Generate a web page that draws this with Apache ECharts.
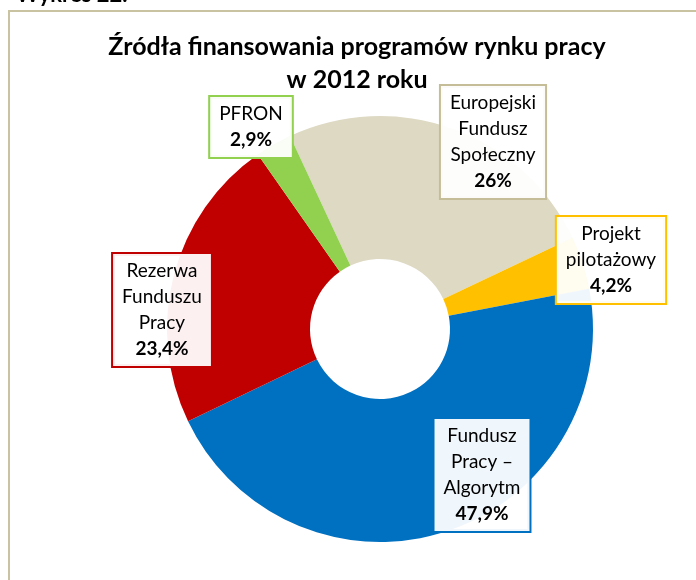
<!DOCTYPE html>
<html lang="pl">
<head>
  <meta charset="UTF-8">
  <title>Źródła finansowania programów rynku pracy w 2012 roku</title>
  <style>
    * { margin: 0; padding: 0; }
    html, body { width: 100%; height: 100%; background: #fff; }
    #chart { width: 696px; height: 580px; }
  </style>
</head>
<body>
  <div id="chart"></div>
  <script src="https://cdn.jsdelivr.net/npm/echarts@6/dist/echarts.min.js"></script>
  <script>
    // dane z wykresu
    const categories = ['Europejski\nFundusz\nSpołeczny', 'Projekt\npilotażowy', 'Fundusz\nPracy –\nAlgorytm', 'Rezerwa\nFunduszu\nPracy', 'PFRON'];
    const values = [26, 4.2, 47.9, 23.4, 2.9];
    const colors = ['#ddd9c3', '#ffc000', '#0070c0', '#c00000', '#92d050'];
    const borderColors = ['#c4bd97', '#ffc000', '#0070c0', '#c00000', '#92d050'];

    // ręcznie przesunięte etykiety (środek ramki, px)
    const labelPos = [[493, 142], [611, 260], [482, 475], [162, 310], [251, 127]];

    const chart = echarts.init(document.getElementById('chart'), null, { renderer: 'canvas' });
    const font = 'Lato, "Open Sans", sans-serif';

    const fmt = v => String(v).replace('.', ',') + '%';

    const option = {
      animation: false,
      title: {
        text: 'Źródła finansowania programów rynku pracy\nw 2012 roku',
        left: 352,
        top: 25,
        textAlign: 'center',
        textStyle: { fontFamily: font, fontSize: 25, fontWeight: 'bold', color: '#000', lineHeight: 33 }
      },
      graphic: [
        {
          type: 'rect',
          shape: { x: 9, y: 11, width: 720, height: 620 },
          style: { fill: 'none', stroke: '#c9c3a1', lineWidth: 2 },
          silent: true
        },
        {
          type: 'text',
          x: 16, y: 6,
          style: { text: 'Wykres 22.', font: 'bold 22px ' + font, fill: '#000', verticalAlign: 'bottom' },
          silent: true
        }
      ],
      series: [{
        type: 'pie',
        center: [380, 329],
        radius: [70, 213],
        startAngle: 115,
        avoidLabelOverlap: false,
        itemStyle: { borderWidth: 0 },
        labelLine: { show: false },
        label: {
          show: true,
          position: 'outside',
          formatter: p => '{n|' + p.name + '}\n{v|' + fmt(p.value) + '}',
          backgroundColor: 'rgba(255,255,255,0.94)',
          borderWidth: 2,
          padding: [4, 9],
          rich: {
            n: { fontFamily: font, fontSize: 19, lineHeight: 26, color: '#000', align: 'center' },
            v: { fontFamily: font, fontSize: 19, fontWeight: 'bold', lineHeight: 26, color: '#000', align: 'center' }
          }
        },
        labelLayout: params => {
          const p = labelPos[params.dataIndex];
          return { x: p[0], y: p[1], align: 'center', verticalAlign: 'middle' };
        },
        data: categories.map((name, i) => ({
          name: name,
          value: values[i],
          itemStyle: { color: colors[i] },
          label: { borderColor: borderColors[i] }
        }))
      }]
    };

    chart.setOption(option);
    window.addEventListener('resize', () => chart.resize());
  </script>
</body>
</html>
